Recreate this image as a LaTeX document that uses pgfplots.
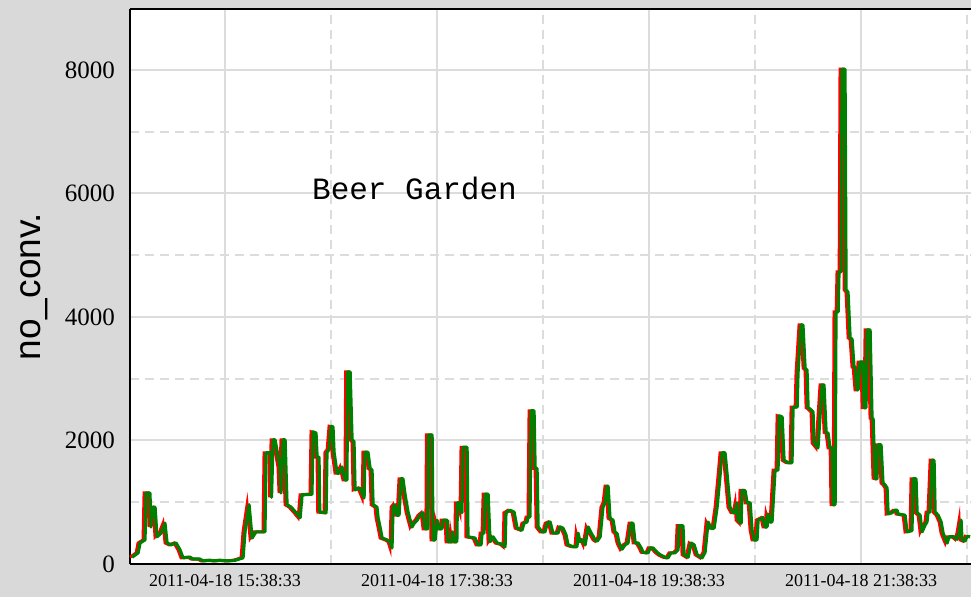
\documentclass[border=0pt]{standalone}
\usepackage{fontspec}
\setmainfont{Liberation Serif}
\setsansfont{Liberation Sans}
\setmonofont{Liberation Mono}
\usepackage{pgfplots}
\usepackage{pgfplotstable}
\pgfplotsset{compat=1.18}
\definecolor{bg}{HTML}{D9D9D9}
\definecolor{gridc}{HTML}{DCDCDC}
\definecolor{dgreen}{HTML}{008000}

% minutes since 2011-04-18 15:38:33, no_conv.
\pgfplotstableread{
m v
-52.6 110
-49.2 180
-48.1 340
-45.3 390
-44.7 1150
-42.5 1150
-41.9 600
-40.8 920
-39.6 920
-38.5 440
-36.2 500
-34.0 660
-32.8 340
-30.6 310
-27.7 340
-25.5 230
-23.8 100
-19.8 110
-18.1 80
-14.2 80
-12.5 50
-8.5 60
-5.7 50
-2.8 60
1.7 50
5.7 60
10.2 100
11.3 520
13.6 960
15.3 420
17.5 520
22.6 520
23.2 1800
26.0 1800
26.3 1080
27.2 2010
28.3 2010
31.1 1570
31.7 1150
32.8 2010
34.0 2010
35.1 960
37.4 920
40.2 830
42.5 750
43.6 1120
49.2 1130
49.8 2140
51.5 2120
52.1 1730
53.2 1730
53.6 840
57.2 830
57.7 1810
58.9 1850
60.0 2230
61.1 2220
61.7 1810
63.4 1470
64.5 1470
66.2 1570
67.9 1360
69.0 1360
69.4 3110
70.8 3110
71.9 2010
73.0 1980
73.6 1200
76.4 1230
78.7 1070
79.2 1810
80.9 1810
82.1 1550
83.2 1520
83.8 960
86.0 920
86.6 750
87.7 600
88.9 420
91.7 390
93.4 360
94.5 260
95.1 920
96.2 960
97.4 790
98.5 790
99.6 1380
100.7 1380
101.9 1120
103.6 840
105.8 600
107.0 660
108.7 710
110.4 790
112.1 830
113.2 570
114.8 570
115.1 2090
117.2 2090
117.7 390
118.9 390
120.0 710
121.1 570
122.8 570
123.4 710
125.7 710
126.2 360
128.3 360
128.7 520
129.6 360
131.2 360
131.5 990
132.4 990
134.1 830
134.7 1890
137.0 1890
137.5 440
141.5 420
143.2 310
144.9 310
145.5 500
146.6 500
147.2 1130
148.9 1130
150.0 360
151.7 440
154.0 340
156.8 320
158.5 280
159.0 830
161.3 870
163.6 840
165.3 580
168.1 550
169.2 660
170.9 680
171.5 760
172.6 760
173.2 2480
174.9 2480
175.5 1550
176.6 1550
177.2 600
179.4 520
181.1 520
182.3 660
184.0 680
185.6 500
188.5 500
189.6 600
191.3 580
193.0 470
194.1 310
197.0 280
199.2 280
199.8 500
200.9 360
202.6 390
203.8 310
205.5 600
207.2 500
208.3 450
209.4 390
210.6 370
212.3 440
213.9 920
215.1 990
216.2 1260
216.8 1260
217.9 740
219.6 710
220.7 520
221.9 490
223.0 340
224.7 240
226.4 310
228.1 340
229.8 660
230.9 660
232.1 340
233.8 340
235.5 260
236.6 190
239.4 180
240.6 260
242.2 260
244.5 190
246.2 150
249.0 110
250.7 100
252.4 180
254.7 180
256.4 230
257.0 620
259.2 620
259.8 150
262.1 110
263.8 340
265.5 310
267.2 150
270.0 100
271.7 190
273.4 680
275.1 580
276.8 580
278.5 920
280.2 1440
281.3 1800
283.0 1800
284.1 1470
285.8 920
287.5 830
288.7 830
289.8 990
290.4 710
292.1 660
292.6 1190
294.3 1190
295.5 990
297.2 990
298.3 550
299.4 390
301.1 390
301.7 710
304.5 750
305.6 600
306.8 600
307.3 810
308.5 680
309.6 680
311.3 1520
313.0 1520
313.6 2400
315.3 2380
316.4 1680
318.7 1640
320.9 1640
321.5 2540
323.8 2540
324.3 3090
326.0 3870
327.1 3870
328.3 3170
329.4 3140
330.0 2530
331.1 2510
332.8 2460
333.4 1960
335.6 1880
337.9 2900
339.0 2900
340.2 2130
341.3 2120
342.4 1880
343.6 1880
344.1 960
345.3 960
345.8 4080
347.0 4080
347.5 4730
348.7 4730
349.2 8010
350.9 8010
351.5 4440
352.6 4400
353.8 3660
354.9 3640
356.0 3190
356.6 3190
357.7 2820
358.3 2820
359.4 3270
361.1 3270
361.7 2530
362.8 2530
363.4 3790
365.1 3790
366.2 2360
366.8 2350
367.9 1390
369.0 1380
369.6 1930
371.3 1930
372.4 1310
373.6 1280
374.7 1230
375.3 810
377.5 830
379.2 870
380.4 870
380.9 810
384.9 790
386.0 520
388.8 540
389.4 1380
391.1 1380
391.7 830
393.4 790
394.5 520
396.2 630
397.3 680
397.9 840
399.0 840
400.2 1680
401.3 1680
401.9 840
403.6 790
405.3 680
406.4 500
407.5 420
408.7 340
409.8 440
412.6 440
414.3 400
415.4 500
416.6 710
417.1 390
418.8 370
420.0 450
421.7 440
}\convdata

\begin{document}
\begin{tikzpicture}[x=1pt,y=1pt]
\path[use as bounding box] (0,0) rectangle (971,597);
\fill[bg] (0,0) rectangle (971,597);
\begin{axis}[
  at={(130pt,33pt)}, anchor=south west,
  scale only axis, width=841pt, height=555pt,
  xmin=-53.8, xmax=422.2,
  ymin=0, ymax=8985,
  clip=false,
  axis lines*=left,
  axis line style={black, line width=2.2pt},
  axis background/.style={fill=white},
  major tick length=0pt, minor tick length=0pt,
  xtick={0,120,240,360},
  xticklabels={2011-04-18 15:38:33, 2011-04-18 17:38:33, 2011-04-18 19:38:33, 2011-04-18 21:38:33},
  minor xtick={60,180,300,420},
  ytick={0,2000,4000,6000,8000},
  minor ytick={1000,3000,5000,7000},
  grid=both,
  major grid style={gridc, line width=2pt},
  minor grid style={gridc, line width=2pt, dash pattern=on 9pt off 6pt},
  /pgf/number format/assume math mode=true,
  /pgf/number format/1000 sep={},
  yticklabel style={font=\fontsize{25}{28}\selectfont, inner sep=0pt, xshift=-15pt},
  xticklabel style={font=\fontsize{18}{20}\selectfont, inner sep=0pt, yshift=-10pt},
  ylabel={no\_conv.},
  ylabel style={at={(axis description cs:-0.1140,0.5)}, anchor=center, font=\sffamily\fontsize{37}{40}\selectfont},
]
\addplot[red, line width=3pt, line join=miter, xshift=-2pt] table[x=m,y=v] {\convdata};
\addplot[dgreen, line width=3.2pt, line join=round] table[x=m,y=v] {\convdata};
\draw[black, line width=2.2pt] (rel axis cs:0,1) -- (rel axis cs:1.01,1);
\node[anchor=west, font=\ttfamily\fontsize{31}{34}\selectfont, inner sep=0pt] at (axis cs:49.2,6080) {Beer Garden};
\end{axis}
\end{tikzpicture}
\end{document}
